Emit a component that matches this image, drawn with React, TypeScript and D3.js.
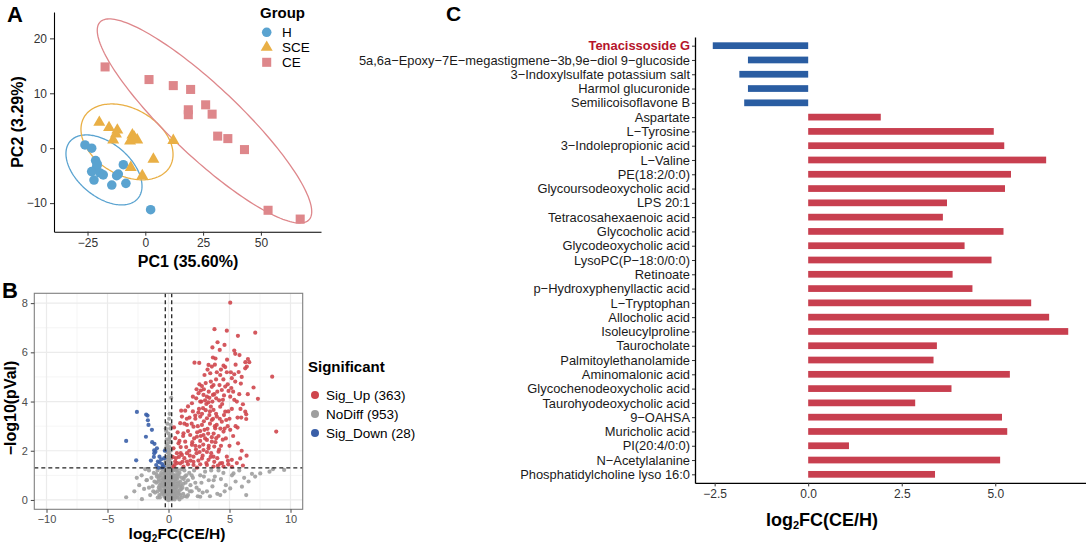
import * as d3 from "d3";
import { useEffect, useRef } from "react";

// ---------- Panel A: PCA scores ----------
const groupNames = ["H", "SCE", "CE"];
const hScores = [
  [-26.1, 0.6], [-23.2, 0.0], [-21.5, -2.25], [-21.0, -3.3], [-23.2, -4.25],
  [-19.6, -4.5], [-22.2, -5.8], [-18.2, -4.85], [-14.5, -6.7], [-12.4, -5.0],
  [-11.7, -4.7], [-9.5, -3.0], [-8.4, -6.4], [2.3, -11.2], [-20.8, -2.9],
];
const sceScores = [
  [-19.9, 4.7], [-15.7, 3.75], [-12.1, 3.3], [-12.7, 2.6], [-13.9, 1.5],
  [-5.6, 2.4], [-6.6, 1.3], [-3.5, 1.5], [12.1, 1.4], [3.5, -2.0],
  [-6.3, -3.5], [-1.3, -5.0], [-4.8, 2.0],
];
const ceScores = [
  [-17.4, 14.8], [1.6, 12.5], [12.1, 11.4], [19.6, 10.7], [26.1, 7.9],
  [28.9, 6.2], [18.6, 7.0], [18.6, 6.1], [31.3, 2.2], [35.7, 1.75],
  [42.9, -0.25], [53.1, -11.3], [67.0, -12.9],
];
// 95% ellipses: centre and two conjugate semi-axes (data units)
const ellipseH = [-17.88, -3.95, 14.69, -5.18, -7.4, -3.71];
const ellipseSCE = [-7.92, 1.15, 18.56, -4.5, -7.21, -5.24];
const ellipseCE = [25.6, 4.96, 45.2, -18.0, -10.43, -4.62];
const pcaXTicks = [-25, 0, 25, 50];
const pcaYTicks = [-10, 0, 10, 20];

// ---------- Panel B: volcano ----------
const sigUp = [
  [5.06, 8.02], [3.77, 6.94], [4.78, 6.88], [5.69, 6.67], [7.11, 6.8], [4.02, 6.41],
  [4.59, 6.3], [5.39, 6.07], [5.47, 5.94], [5.82, 5.89], [3.64, 5.79], [2.13, 5.58],
  [2.52, 5.57], [3.28, 5.49], [3.55, 5.42], [4.51, 5.46], [6.51, 5.73], [6.62, 5.6],
  [6.42, 5.42], [6.29, 5.35], [2.95, 5.08], [3.42, 5.15], [3.96, 5.19], [4.24, 5.08],
  [4.78, 5.19], [5.11, 5.19], [5.39, 5.11], [5.19, 4.95], [5.47, 4.81], [5.93, 4.73],
  [8.5, 5.01], [6.97, 4.57], [7.33, 4.11], [8.83, 2.78], [2.54, 4.7], [2.74, 4.63],
  [3.47, 4.81], [3.69, 4.67], [4.18, 4.67], [4.37, 4.47], [4.65, 4.61], [4.92, 4.43],
  [2.46, 4.34], [2.87, 4.27], [3.15, 4.2], [3.64, 4.27], [3.91, 4.13], [4.46, 4.07],
  [5.06, 4.2], [5.39, 4.07], [6.1, 3.89], [2.27, 4.13], [1.92, 3.93], [2.6, 4.0],
  [3.28, 3.97], [3.47, 3.79], [3.69, 3.66], [2.83, 3.73], [4.24, 3.79], [4.65, 3.59],
  [5.19, 3.7], [6.29, 3.59], [6.37, 3.48], [5.66, 3.35], [5.96, 3.35], [5.66, 2.94],
  [6.37, 3.29], [1.04, 3.63], [1.37, 3.63], [1.1, 3.39], [1.72, 3.35], [2.19, 3.43],
  [2.6, 3.39], [3.15, 3.32], [3.55, 3.25], [3.96, 3.39], [4.37, 3.18], [4.73, 3.25],
  [0.96, 3.12], [1.51, 3.05], [2.05, 2.98], [2.74, 3.05], [3.2, 2.89], [3.83, 2.91],
  [4.51, 2.78], [5.06, 2.85], [1.23, 2.71], [1.78, 2.64], [2.33, 2.57], [2.87, 2.64],
  [3.15, 2.44], [3.55, 2.37], [3.91, 2.51], [0.55, 2.51], [0.82, 2.3], [1.37, 2.37],
  [1.92, 2.24], [2.54, 2.17], [2.87, 2.03], [3.28, 2.1], [3.75, 2.17], [4.1, 1.96],
  [4.78, 1.76], [5.19, 1.63], [5.88, 1.69], [4.87, 1.59], [0.41, 2.1], [0.69, 1.9],
  [1.1, 1.83], [1.51, 1.9], [2.05, 1.76], [2.74, 1.69], [3.28, 1.63], [3.69, 1.76],
  [0.55, 1.56], [0.96, 1.49], [1.51, 1.56], [2.05, 1.42], [2.6, 1.45], [3.15, 1.42],
  [3.69, 1.36], [4.24, 1.49], [4.51, 1.36], [0.41, 1.36], [1.23, 1.36], [2.33, 1.31],
  [2.9, 4.5], [3.3, 4.4], [3.6, 4.0], [3.1, 3.9], [2.5, 3.7], [3.9, 3.5], [4.2, 3.3],
  [3.4, 3.1], [2.9, 3.2], [2.4, 3.0], [3.7, 2.7], [4.1, 2.6], [3.0, 2.5], [2.6, 2.4],
  [2.1, 2.5], [1.7, 2.0], [2.3, 1.9], [3.5, 1.9], [4.3, 2.2], [4.6, 2.9], [4.9, 3.6],
  [5.3, 4.4], [4.5, 4.9], [3.9, 4.9], [3.2, 5.3], [2.3, 4.5], [1.5, 3.3], [1.2, 2.6],
  [1.0, 1.9], [0.7, 1.5], [1.3, 1.7], [1.8, 1.6], [2.8, 1.8], [3.1, 1.5], [4.0, 1.7],
  [5.0, 2.2], [5.5, 3.0], [5.8, 4.3], [6.3, 5.6], [6.0, 5.0], [4.8, 5.7], [4.2, 6.1],
  [3.8, 5.5], [2.7, 4.0], [2.0, 3.6], [1.6, 2.8], [0.9, 2.4], [0.6, 1.7], [3.4, 3.6],
  [3.8, 3.0], [4.4, 3.9], [4.0, 4.4], [2.2, 2.2], [2.6, 2.8], [1.9, 3.1], [3.3, 2.2],
  [4.7, 2.5], [4.4, 1.5], [5.6, 1.5], [6.1, 1.4],
  [2.2, 3.3], [2.45, 3.55], [2.75, 3.5], [3.05, 3.65], [3.35, 3.45], [3.65, 3.3], [3.95, 3.05],
  [4.25, 2.9], [4.55, 3.45], [4.85, 3.0], [2.35, 2.75], [2.65, 2.6], [2.95, 2.85], [3.25, 2.7],
  [3.55, 2.55], [3.85, 2.35], [4.15, 2.05], [4.45, 2.45], [1.95, 2.35], [2.25, 2.05],
  [2.55, 1.95], [2.85, 2.25], [3.15, 1.95], [3.45, 1.75], [3.75, 1.55], [4.05, 1.4],
  [1.45, 2.15], [1.75, 1.8], [2.05, 1.55], [2.45, 1.6], [0.85, 1.75], [1.15, 1.55], [0.5, 1.42],
  [0.35, 1.75], [1.6, 1.45], [3.0, 4.05], [3.35, 4.15], [3.75, 4.3], [4.15, 4.05], [4.55, 4.25],
  [4.85, 4.7], [5.15, 4.55], [3.55, 4.6], [3.05, 4.75], [2.65, 4.45], [4.3, 5.3], [4.65, 5.4],
  [3.85, 5.75], [3.6, 6.2], [5.5, 5.5], [5.75, 5.2], [5.6, 4.0], [5.9, 3.7], [6.5, 4.3],
  [5.0, 3.3], [5.3, 2.6], [5.7, 2.3], [6.0, 2.0], [5.2, 1.35], [6.4, 1.8], [4.9, 1.45],
  [2.0, 4.2], [1.6, 3.8], [1.3, 3.1], [0.75, 2.75], [0.45, 2.95], [1.0, 2.15],
];
const noDiff = [
  [0.05, 3.3], [-0.1, 3.1], [0.15, 2.9], [-0.2, 2.8], [0.0, 2.7], [0.1, 2.55], [-0.15, 2.45],
  [0.2, 2.35], [-0.05, 2.3], [0.08, 2.15], [-0.22, 2.1], [0.18, 2.0], [-0.12, 1.95], [0.0, 1.9],
  [0.12, 1.82], [-0.18, 1.75], [0.22, 1.7], [-0.05, 1.65], [0.06, 1.58], [-0.2, 1.52],
  [0.15, 1.48], [-0.1, 1.42], [0.02, 1.38], [0.2, 1.34], [-0.15, 1.3], [0.22, 4.15],
  [0.1, 3.5], [-0.05, 2.05], [0.17, 2.6], [-0.25, 1.6],
  [-1.4, 0.9], [-1.2, 1.1], [-1.0, 0.7], [-0.9, 1.2], [-0.8, 0.5], [-0.7, 1.0], [-0.6, 0.8],
  [-0.5, 1.25], [-0.45, 0.3], [-0.4, 0.6], [-0.35, 1.1], [-0.3, 0.9], [-0.25, 0.4],
  [-0.2, 0.15], [-0.15, 0.7], [-0.1, 1.0], [-0.05, 0.5], [0.0, 0.2], [0.05, 0.85], [0.1, 0.4],
  [0.15, 1.15], [0.2, 0.6], [0.25, 0.05], [0.3, 0.95], [0.35, 0.35], [0.4, 1.2], [0.45, 0.7],
  [0.5, 0.2], [0.55, 1.0], [0.6, 0.5], [0.7, 0.85], [0.8, 0.3], [0.9, 1.1], [1.0, 0.6],
  [1.1, 0.9], [1.2, 0.25], [1.3, 1.2], [1.4, 0.7], [1.5, 0.45], [-1.1, 0.3], [-0.95, 0.95],
  [-0.75, 0.2], [-0.62, 1.28], [-0.55, 0.55], [-0.32, 0.12], [-0.18, 0.45], [-0.08, 0.8],
  [0.02, 0.6], [0.08, 1.1], [0.12, 0.1], [0.18, 0.9], [0.28, 0.3], [0.33, 0.65], [0.42, 0.08],
  [0.48, 0.45], [0.62, 1.18], [0.68, 0.15], [0.75, 0.65], [0.85, 0.95], [0.95, 0.4],
  [1.05, 1.25], [1.15, 0.5], [1.25, 0.85], [1.35, 0.15], [-0.02, 0.05], [0.06, 0.3],
  [-0.12, 0.25], [0.1, 0.7], [-0.28, 0.65], [0.22, 0.35], [-0.42, 0.85], [0.38, 0.55],
  [-0.65, 0.4], [0.58, 0.75], [-0.85, 0.75], [0.78, 1.05], [-1.3, 0.55], [1.45, 1.0],
  [-1.6, 1.2], [1.6, 0.2], [-1.8, 0.8], [1.7, 1.1], [-2.0, 0.45], [1.8, 0.6], [-2.2, 1.0],
  [1.9, 0.35], [-2.4, 0.6], [2.0, 0.9],
  [-0.7, 0.1], [-0.6, 0.65], [-0.5, 0.9], [-0.45, 1.05], [-0.38, 0.2], [-0.33, 0.75],
  [-0.27, 1.2], [-0.22, 0.55], [-0.17, 0.95], [-0.13, 0.35], [-0.09, 1.2], [-0.04, 0.7],
  [0.0, 1.05], [0.03, 0.4], [0.07, 0.15], [0.11, 0.95], [0.14, 0.55], [0.19, 0.25],
  [0.23, 0.8], [0.27, 1.1], [0.31, 0.5], [0.36, 0.85], [0.41, 0.3], [0.46, 1.0], [0.52, 0.6],
  [0.57, 0.1], [0.63, 0.9], [0.72, 0.4], [0.8, 0.7], [-0.78, 0.95], [-0.72, 0.6],
  [-0.58, 0.25], [-0.48, 0.7], [-0.36, 0.45], [-0.24, 0.85], [-0.14, 0.1], [-0.06, 0.28],
  [0.04, 0.95], [0.09, 0.55], [0.16, 0.4], [0.21, 1.0], [0.26, 0.6], [0.34, 0.18],
  [0.44, 0.9], [0.5, 0.38], [0.6, 0.28], [0.66, 1.0], [0.76, 0.1], [0.88, 0.55], [0.98, 0.2],
  [-0.03, 1.25], [0.13, 1.25], [-0.19, 1.18], [0.29, 1.25], [-0.42, 1.28], [0.52, 1.28],
  [-0.88, 0.1], [1.1, 0.1], [0.0, 0.0], [0.05, 0.6],
  [-0.3, 0.55], [-0.26, 0.25], [-0.21, 0.72], [-0.16, 1.08], [-0.11, 0.6], [-0.07, 0.15],
  [-0.02, 0.88], [0.02, 0.25], [0.07, 0.78], [0.11, 0.3], [0.15, 0.85], [0.19, 0.5],
  [0.24, 0.95], [0.02, 1.18], [-0.08, 0.42], [0.12, 0.62], [-0.18, 0.3], [0.17, 0.18],
  [-0.23, 1.0], [0.24, 1.2], [0.35, 1.0], [0.45, 0.15], [0.55, 0.85], [0.65, 0.55],
  [0.75, 1.2], [0.85, 0.25], [0.95, 0.75], [1.05, 0.45], [1.2, 0.65], [1.35, 0.95],
  [-0.4, 0.35], [-0.5, 0.6], [-0.6, 1.1], [-0.7, 0.45], [-0.8, 0.85], [-0.9, 0.35],
  [-1.0, 1.05], [-1.15, 0.75], [-1.25, 0.35], [0.3, 0.02], [-0.1, 0.02], [0.1, 0.02],
  [0.5, 0.02], [0.7, 0.3], [0.9, 0.02], [1.6, 0.8], [1.75, 0.35], [1.9, 1.0], [2.2, 0.7],
  [2.5, 0.4], [2.9, 0.95], [3.4, 0.15], [3.7, 0.8], [4.1, 1.2], [4.6, 0.35], [-0.05, 1.75],
  [0.1, 1.65], [-0.15, 2.2], [0.05, 2.45], [-0.22, 2.9], [0.18, 3.05],
  [2.1, 1.2], [2.3, 0.5], [2.4, 0.15], [2.6, 1.0], [2.7, 0.7], [2.8, 0.3], [3.0, 1.15],
  [3.15, 0.35], [3.3, 0.8], [3.5, 1.2], [3.6, 0.55], [3.8, 0.95], [4.0, 0.25], [4.24, 0.2],
  [4.3, 0.85], [4.5, 1.1], [4.7, 0.6], [5.06, 0.47], [5.2, 1.0], [5.33, 1.08], [5.5, 0.75],
  [5.8, 1.2], [6.02, 0.54], [6.2, 0.9], [6.37, 0.2], [6.56, 0.75], [6.84, 1.06], [7.1, 0.95],
  [7.52, 1.08], [8.28, 1.15], [8.56, 1.25], [9.48, 1.22], [2.6, 0.13], [1.51, 0.13],
  [-3.47, 0.11], [-2.18, 0.03], [-1.77, 0.81], [-1.5, 0.2], [-2.6, 0.9], [-1.9, 1.25],
  [-1.6, 0.5], [-2.8, 0.35],
];
const sigDown = [
  [-2.59, 3.58], [-1.83, 3.47], [-1.72, 3.43], [-1.69, 3.24], [-1.64, 3.05], [-3.47, 2.4],
  [-1.85, 2.57], [-1.34, 2.35], [-1.15, 2.28], [-1.17, 2.02], [-1.07, 1.96], [-1.17, 1.9],
  [-0.74, 1.76], [-2.65, 1.61], [-1.44, 1.6], [-0.87, 1.56], [-0.74, 1.53], [-1.01, 1.42],
  [-0.52, 1.46], [-0.41, 1.37], [-0.84, 1.31], [-0.3, 2.0], [-0.35, 1.7], [-1.2, 1.75],
  [-0.6, 1.65], [-0.95, 2.1], [-1.36, 2.85], [-0.5, 1.33],
];
const sigLabels = ["Sig_Up (363)", "NoDiff (953)", "Sig_Down (28)"];
const volXTicks = [-10, -5, 0, 5, 10];
const volYTicks = [0, 2, 4, 6, 8];
const volXMinor = [-7.5, -2.5, 2.5, 7.5];
const volYMinor = [1, 3, 5, 7];
const fcCut = 0.263;
const pCut = 1.301;

// ---------- Panel C: log2FC bars ----------
const metabolites = [
  "Tenacissoside G",
  "5a,6a−Epoxy−7E−megastigmene−3b,9e−diol 9−glucoside",
  "3−Indoxylsulfate potassium salt",
  "Harmol glucuronide",
  "Semilicoisoflavone B",
  "Aspartate",
  "L−Tyrosine",
  "3−Indolepropionic acid",
  "L−Valine",
  "PE(18:2/0:0)",
  "Glycoursodeoxycholic acid",
  "LPS 20:1",
  "Tetracosahexaenoic acid",
  "Glycocholic acid",
  "Glycodeoxycholic acid",
  "LysoPC(P−18:0/0:0)",
  "Retinoate",
  "p−Hydroxyphenyllactic acid",
  "L−Tryptophan",
  "Allocholic acid",
  "Isoleucylproline",
  "Taurocholate",
  "Palmitoylethanolamide",
  "Aminomalonic acid",
  "Glycochenodeoxycholic acid",
  "Taurohyodeoxycholic acid",
  "9−OAHSA",
  "Muricholic acid",
  "PI(20:4/0:0)",
  "N−Acetylalanine",
  "Phosphatidylcholine lyso 16:0",
];
const log2fc = [
  -2.55, -1.61, -1.84, -1.61, -1.71, 1.94, 4.96, 5.24, 6.36, 5.42, 5.26, 3.71, 3.6, 5.22,
  4.18, 4.9, 3.86, 4.39, 5.96, 6.44, 6.95, 3.44, 3.35, 5.39, 3.83, 2.86, 5.18, 5.32, 1.09,
  5.13, 3.39,
];
const fcTicks = [-2.5, 0, 2.5, 5];

const FONT = "'Liberation Sans', Arial, Helvetica, sans-serif";
const minus = (s: string) => s.replace("-", "−");

const App = () => {
  const svgRef = useRef<SVGSVGElement>(null);

  useEffect(() => {
    const svg = d3.select(svgRef.current);
    svg.selectAll("*").remove();
    svg.attr("font-family", FONT);

    // ================= Panel A =================
    const colA: Record<string, string> = { H: "#5AA3D0", SCE: "#E9AF45", CE: "#DE878B" };
    const symA: Record<string, any> = {
      H: d3.symbol(d3.symbolCircle, 72),
      SCE: d3.symbol(d3.symbolTriangle, 62),
      CE: d3.symbol(d3.symbolSquare, 82),
    };
    const xA = d3.scaleLinear().domain([-39.5, 76]).range([54, 321]);
    const yA = d3.scaleLinear().domain([-15.2, 24.8]).range([231.7, 12]);
    const gA = svg.append("g");

    const ell = [ellipseH, ellipseSCE, ellipseCE];
    const angles = d3.range(0, 2 * Math.PI + 0.01, Math.PI / 90);
    ell.forEach((e, i) => {
      const [cx, cy, ax, ay, bx, by] = e;
      const line = d3
        .line<number>()
        .x((t) => xA(cx + ax * Math.cos(t) + bx * Math.sin(t)))
        .y((t) => yA(cy + ay * Math.cos(t) + by * Math.sin(t)));
      gA.append("path")
        .attr("d", line(angles))
        .attr("fill", "none")
        .attr("stroke", colA[groupNames[i]])
        .attr("stroke-width", 1.3);
    });

    [hScores, sceScores, ceScores].forEach((pts, i) => {
      const gname = groupNames[i];
      gA.selectAll(`.pt-${gname}`)
        .data(pts)
        .enter()
        .append("path")
        .attr("d", symA[gname]())
        .attr("transform", (d) => `translate(${xA(d[0])},${yA(d[1])})`)
        .attr("fill", colA[gname]);
    });

    const axA = gA
      .append("g")
      .attr("transform", "translate(0,231.7)")
      .call(d3.axisBottom(xA).tickValues(pcaXTicks).tickSize(4).tickSizeOuter(0).tickPadding(3)
        .tickFormat((d) => minus(String(d))));
    const ayA = gA
      .append("g")
      .attr("transform", "translate(54,0)")
      .call(d3.axisLeft(yA).tickValues(pcaYTicks).tickSize(4).tickSizeOuter(0).tickPadding(3)
        .tickFormat((d) => minus(String(d))));
    [axA, ayA].forEach((a) => {
      a.select(".domain").attr("stroke", "#000").attr("stroke-width", 1.1);
      a.selectAll(".tick line").attr("stroke", "#333");
      a.selectAll("text").attr("font-size", 12).attr("fill", "#333").attr("font-family", FONT);
    });

    gA.append("text").attr("x", 188).attr("y", 267).attr("text-anchor", "middle")
      .attr("font-size", 16).attr("font-weight", "bold").text("PC1 (35.60%)");
    gA.append("text").attr("transform", "translate(23,122) rotate(-90)").attr("text-anchor", "middle")
      .attr("font-size", 16).attr("font-weight", "bold").text("PC2 (3.29%)");
    gA.append("text").attr("x", 7).attr("y", 22).attr("font-size", 22).attr("font-weight", "bold").text("A");

    // legend
    gA.append("text").attr("x", 260).attr("y", 18).attr("font-size", 15).attr("font-weight", "bold").text("Group");
    groupNames.forEach((gname, i) => {
      const yy = 32.3 + i * 15;
      gA.append("path").attr("d", symA[gname]()).attr("transform", `translate(266.7,${yy})`).attr("fill", colA[gname]);
      gA.append("text").attr("x", 282).attr("y", yy).attr("dy", "0.36em").attr("font-size", 13.5).text(gname);
    });

    // ================= Panel B =================
    const xB = d3.scaleLinear().domain([-11, 11]).range([34.3, 302.7]);
    const yB = d3.scaleLinear().domain([-0.38, 8.4]).range([509.3, 293.3]);
    const gB = svg.append("g");
    const [bx0, bx1] = xB.range();
    const [by0, by1] = yB.range();

    gB.selectAll(".gmx").data(volXMinor).enter().append("line")
      .attr("x1", (d) => xB(d)).attr("x2", (d) => xB(d)).attr("y1", by1).attr("y2", by0)
      .attr("stroke", "#F2F2F2").attr("stroke-width", 0.8);
    gB.selectAll(".gmy").data(volYMinor).enter().append("line")
      .attr("y1", (d) => yB(d)).attr("y2", (d) => yB(d)).attr("x1", bx0).attr("x2", bx1)
      .attr("stroke", "#F2F2F2").attr("stroke-width", 0.8);
    gB.selectAll(".gx").data(volXTicks).enter().append("line")
      .attr("x1", (d) => xB(d)).attr("x2", (d) => xB(d)).attr("y1", by1).attr("y2", by0)
      .attr("stroke", "#EBEBEB").attr("stroke-width", 1.2);
    gB.selectAll(".gy").data(volYTicks).enter().append("line")
      .attr("y1", (d) => yB(d)).attr("y2", (d) => yB(d)).attr("x1", bx0).attr("x2", bx1)
      .attr("stroke", "#EBEBEB").attr("stroke-width", 1.2);

    const volCols = ["#CF464D", "#9E9E9E", "#3A5FA8"];
    [noDiff, sigUp, sigDown].forEach((pts, i) => {
      const c = i === 0 ? volCols[1] : i === 1 ? volCols[0] : volCols[2];
      gB.append("g").selectAll("circle").data(pts).enter().append("circle")
        .attr("cx", (d) => xB(d[0])).attr("cy", (d) => yB(d[1])).attr("r", 2.1)
        .attr("fill", c).attr("fill-opacity", 0.9);
    });

    [-fcCut, fcCut].forEach((v) => {
      gB.append("line").attr("x1", xB(v)).attr("x2", xB(v)).attr("y1", by1).attr("y2", by0)
        .attr("stroke", "#222").attr("stroke-width", 1.3).attr("stroke-dasharray", "4,3");
    });
    gB.append("line").attr("x1", bx0).attr("x2", bx1).attr("y1", yB(pCut)).attr("y2", yB(pCut))
      .attr("stroke", "#222").attr("stroke-width", 1.3).attr("stroke-dasharray", "4,3");

    gB.append("rect").attr("x", bx0).attr("y", by1).attr("width", bx1 - bx0).attr("height", by0 - by1)
      .attr("fill", "none").attr("stroke", "#7F7F7F").attr("stroke-width", 1.1);

    const axB = gB.append("g").attr("transform", `translate(0,${by0})`)
      .call(d3.axisBottom(xB).tickValues(volXTicks).tickSize(3.5).tickSizeOuter(0).tickPadding(2)
        .tickFormat((d) => minus(String(d))));
    const ayB = gB.append("g").attr("transform", `translate(${bx0},0)`)
      .call(d3.axisLeft(yB).tickValues(volYTicks).tickSize(3.5).tickSizeOuter(0).tickPadding(3));
    [axB, ayB].forEach((a) => {
      a.select(".domain").remove();
      a.selectAll(".tick line").attr("stroke", "#444");
      a.selectAll("text").attr("font-size", 11).attr("fill", "#4D4D4D").attr("font-family", FONT);
    });

    const xt = gB.append("text").attr("x", 177).attr("y", 539).attr("text-anchor", "middle")
      .attr("font-size", 15.5).attr("font-weight", "bold");
    xt.append("tspan").text("log");
    xt.append("tspan").attr("font-size", 10).attr("dy", 3).text("2");
    xt.append("tspan").attr("dy", -3).text("FC(CE/H)");
    gB.append("text").attr("transform", "translate(16,408) rotate(-90)").attr("text-anchor", "middle")
      .attr("font-size", 16).attr("font-weight", "bold").text("−log10(pVal)");
    gB.append("text").attr("x", 2).attr("y", 298).attr("font-size", 22).attr("font-weight", "bold").text("B");

    gB.append("text").attr("x", 308).attr("y", 372).attr("font-size", 15).attr("font-weight", "bold").text("Significant");
    sigLabels.forEach((lab, i) => {
      const yy = 395 + i * 19;
      gB.append("circle").attr("cx", 315).attr("cy", yy).attr("r", 4).attr("fill", volCols[i]);
      gB.append("text").attr("x", 326).attr("y", yy).attr("dy", "0.36em").attr("font-size", 13.5).text(lab);
    });

    // ================= Panel C =================
    const xC = d3.scaleLinear().domain([-3.025, 7.425]).range([695, 1086]);
    const yC = d3.scalePoint<string>().domain(metabolites).range([37.1, 482.9]).padding(0.6);
    const gC = svg.append("g");
    const barH = yC.step() * 0.47;

    gC.selectAll("rect").data(metabolites).enter().append("rect")
      .attr("x", (d, i) => xC(Math.min(0, log2fc[i])))
      .attr("width", (d, i) => Math.abs(xC(log2fc[i]) - xC(0)))
      .attr("y", (d) => (yC(d) as number) - barH / 2)
      .attr("height", barH)
      .attr("fill", (d, i) => (log2fc[i] < 0 ? "#2A5DA2" : "#C83F4F"));

    const axC = gC.append("g").attr("transform", "translate(0,482.9)")
      .call(d3.axisBottom(xC).tickValues(fcTicks).tickSize(3.5).tickSizeOuter(0).tickPadding(3)
        .tickFormat((d) => minus(d3.format(".1f")(d as number))));
    const ayC = gC.append("g").attr("transform", "translate(695,0)")
      .call(d3.axisLeft(yC).tickSize(3).tickSizeOuter(0).tickPadding(2));
    [axC, ayC].forEach((a) => {
      a.select(".domain").attr("stroke", "#000").attr("stroke-width", 1.3);
      a.selectAll(".tick line").attr("stroke", "#333");
      a.selectAll("text").attr("font-size", 12).attr("fill", "#1A1A1A").attr("font-family", FONT);
    });
    ayC.selectAll("text").attr("font-size", 12.9);
    axC.selectAll("text").attr("fill", "#333");
    ayC.selectAll(".tick text")
      .filter((d) => d === metabolites[0])
      .attr("fill", "#B5152B").attr("font-weight", "bold");

    const xtc = gC.append("text").attr("x", 822).attr("y", 526).attr("text-anchor", "middle")
      .attr("font-size", 18).attr("font-weight", "bold");
    xtc.append("tspan").text("log");
    xtc.append("tspan").attr("font-size", 11).attr("dy", 3).text("2");
    xtc.append("tspan").attr("dy", -3).text("FC(CE/H)");
    gC.append("text").attr("x", 446).attr("y", 21).attr("font-size", 21).attr("font-weight", "bold").text("C");
  }, []);

  return (
    <svg
      ref={svgRef}
      width={1086}
      height={547}
      style={{ position: "absolute", left: 0, top: 0, background: "#fff" }}
    ></svg>
  );
};

export default App;
